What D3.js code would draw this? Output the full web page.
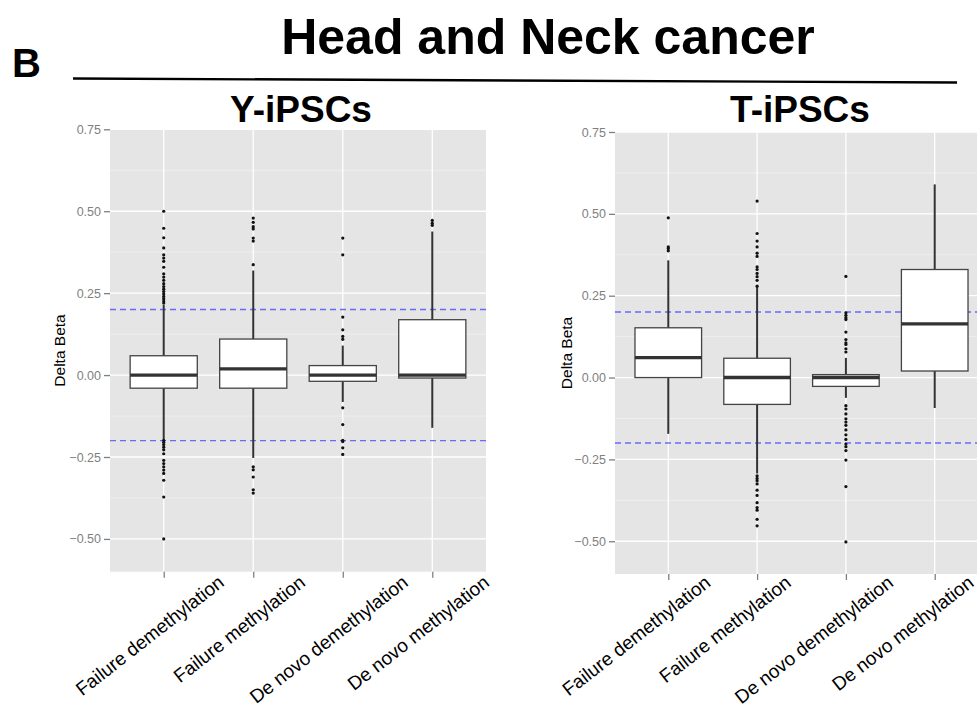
<!DOCTYPE html>
<html>
<head>
<meta charset="utf-8">
<script src="https://cdn.jsdelivr.net/npm/d3@7"></script>
<style>
  html, body { margin: 0; padding: 0; background: #fff; }
  svg { display: block; font-family: "Liberation Sans", Arial, sans-serif; }
</style>
</head>
<body>
<svg id="chart" width="977" height="709"></svg>
<script>
// Categories of CpG behaviour
const categories = ["Failure demethylation", "Failure methylation", "De novo demethylation", "De novo methylation"];
const panelTitles = ["Y-iPSCs", "T-iPSCs"];
const yTicks = [-0.5, -0.25, 0, 0.25, 0.5, 0.75];
const yMinor = [-0.375, -0.125, 0.125, 0.375, 0.625];
const thresholds = [-0.2, 0.2];

// Y-iPSCs box statistics (Delta Beta)
const yWhiskerLow  = [-0.195, -0.253, -0.082, -0.161];
const yQ1          = [-0.040, -0.040, -0.019, -0.009];
const yMedian      = [ 0.000,  0.019,  0.000,  0.000];
const yQ3          = [ 0.059,  0.110,  0.029,  0.169];
const yWhiskerHigh = [ 0.215,  0.319,  0.090,  0.438];
const yOutliers = [
  [0.50, 0.448, 0.419, 0.388, 0.367, 0.357, 0.347, 0.329, 0.309, 0.299, 0.289, 0.279, 0.27, 0.262,
   0.255, 0.248, 0.24, 0.233, 0.226, 0.22, -0.199, -0.205, -0.212, -0.22, -0.228, -0.24, -0.26,
   -0.27, -0.28, -0.29, -0.30, -0.321, -0.372, -0.50],
  [0.479, 0.466, 0.453, 0.446, 0.418, 0.409, 0.337, -0.28, -0.289, -0.311, -0.35, -0.36],
  [0.418, 0.367, 0.177, 0.138, 0.118, 0.109, -0.10, -0.151, -0.199, -0.203, -0.222, -0.242],
  [0.472, 0.463, 0.457]
];

// T-iPSCs box statistics (Delta Beta)
const tWhiskerLow  = [-0.172, -0.293, -0.062, -0.093];
const tQ1          = [ 0.000, -0.082, -0.027,  0.020];
const tMedian      = [ 0.061,  0.000,  0.000,  0.164];
const tQ3          = [ 0.152,  0.059,  0.009,  0.330];
const tWhiskerHigh = [ 0.358,  0.277,  0.060,  0.590];
const tOutliers = [
  [0.488, 0.399, 0.394, 0.387],
  [0.539, 0.44, 0.417, 0.399, 0.38, 0.37, 0.338, 0.33, 0.318, 0.308, 0.297, 0.279, -0.30, -0.308,
   -0.315, -0.325, -0.344, -0.36, -0.382, -0.397, -0.405, -0.433, -0.453],
  [0.309, 0.198, 0.19, 0.183, 0.177, 0.139, 0.116, 0.106, 0.101, 0.088, 0.078, -0.086, -0.096,
   -0.111, -0.126, -0.136, -0.146, -0.16, -0.175, -0.189, -0.203, -0.211, -0.223, -0.252, -0.333, -0.502],
  []
];

function rows(lo, q1, med, q3, hi, out) {
  return categories.map((c, i) => ({ cat: c, lo: lo[i], q1: q1[i], med: med[i], q3: q3[i], hi: hi[i], out: out[i] }));
}

const panels = [
  { title: panelTitles[0], data: rows(yWhiskerLow, yQ1, yMedian, yQ3, yWhiskerHigh, yOutliers),
    x0: 110, x1: 486, y0: 129.3, y1: 571.7, titleX: 301, ylabX: 65, labDx: -10, labGap: 13 },
  { title: panelTitles[1], data: rows(tWhiskerLow, tQ1, tMedian, tQ3, tWhiskerHigh, tOutliers),
    x0: 615, x1: 988, y0: 132, y1: 574, titleX: 800, ylabX: 572, labDx: -28, labGap: 11 }
];

const svg = d3.select("#chart");
svg.append("rect").attr("width", 977).attr("height", 709).attr("fill", "#fff");

// Figure heading
svg.append("text").attr("x", 12).attr("y", 76.5)
  .attr("font-size", 40).attr("font-weight", "bold").attr("fill", "#000").text("B");
svg.append("text").attr("x", 548).attr("y", 53.5).attr("text-anchor", "middle")
  .attr("font-size", 50).attr("font-weight", "bold").attr("fill", "#000").text("Head and Neck cancer");
svg.append("line").attr("x1", 73).attr("y1", 78.5).attr("x2", 957).attr("y2", 82.5)
  .attr("stroke", "#000").attr("stroke-width", 2.4);

const labelAngle = 38;
const sinA = Math.sin(labelAngle * Math.PI / 180);

panels.forEach(p => {
  const x = d3.scalePoint().domain(categories).range([p.x0, p.x1]).padding(0.6);
  const y = d3.scaleLinear().domain([-0.6, 0.75]).range([p.y1, p.y0]);
  const bw = x.step() * 0.75;
  const g = svg.append("g");

  // panel background and grid
  g.append("rect").attr("x", p.x0).attr("y", p.y0)
    .attr("width", p.x1 - p.x0).attr("height", p.y1 - p.y0).attr("fill", "#e5e5e5");
  g.selectAll(".minor").data(yMinor).join("line")
    .attr("x1", p.x0).attr("x2", p.x1).attr("y1", d => y(d)).attr("y2", d => y(d))
    .attr("stroke", "#f3f3f3").attr("stroke-width", 0.7);
  g.selectAll(".major").data(yTicks).join("line")
    .attr("x1", p.x0).attr("x2", p.x1).attr("y1", d => y(d)).attr("y2", d => y(d))
    .attr("stroke", "#fff").attr("stroke-width", 1.3);
  g.selectAll(".vmajor").data(categories).join("line")
    .attr("x1", d => x(d)).attr("x2", d => x(d)).attr("y1", p.y0).attr("y2", p.y1)
    .attr("stroke", "#fff").attr("stroke-width", 1.3);

  // threshold lines
  g.selectAll(".thr").data(thresholds).join("line")
    .attr("x1", p.x0).attr("x2", p.x1).attr("y1", d => y(d)).attr("y2", d => y(d))
    .attr("stroke", "#6a6aff").attr("stroke-width", 1.4).attr("stroke-dasharray", "6,4");

  // boxplots
  const box = g.selectAll(".box").data(p.data).join("g");
  box.append("line")
    .attr("x1", d => x(d.cat)).attr("x2", d => x(d.cat))
    .attr("y1", d => y(d.hi)).attr("y2", d => y(d.lo))
    .attr("stroke", "#333").attr("stroke-width", 2);
  box.append("rect")
    .attr("x", d => x(d.cat) - bw / 2).attr("width", bw)
    .attr("y", d => y(d.q3)).attr("height", d => y(d.q1) - y(d.q3))
    .attr("fill", "#fff").attr("stroke", "#444").attr("stroke-width", 1.3);
  box.append("line")
    .attr("x1", d => x(d.cat) - bw / 2).attr("x2", d => x(d.cat) + bw / 2)
    .attr("y1", d => y(d.med)).attr("y2", d => y(d.med))
    .attr("stroke", "#333").attr("stroke-width", 3.4);
  box.selectAll("circle").data(d => d.out.map(v => ({ cat: d.cat, v }))).join("circle")
    .attr("cx", d => x(d.cat)).attr("cy", d => y(d.v)).attr("r", 1.6).attr("fill", "#111");

  // y axis
  const yAxis = d3.axisLeft(y).tickValues(yTicks).tickSize(6).tickPadding(3).tickFormat(d3.format(".2f"));
  const ya = g.append("g").attr("transform", `translate(${p.x0},0)`).call(yAxis);
  ya.select(".domain").remove();
  ya.selectAll(".tick line").attr("stroke", "#7f7f7f").attr("stroke-width", 1.3);
  ya.selectAll(".tick text").attr("fill", "#7f7f7f").attr("font-size", 12.5)
    .attr("font-family", "Liberation Sans, Arial, sans-serif");

  // x axis ticks
  const xAxis = d3.axisBottom(x).tickSize(6).tickFormat("");
  const xa = g.append("g").attr("transform", `translate(0,${p.y1})`).call(xAxis);
  xa.select(".domain").remove();
  xa.selectAll(".tick line").attr("stroke", "#7f7f7f").attr("stroke-width", 1.3);

  // rotated category labels
  const labs = g.selectAll(".xlab").data(categories).join("text")
    .attr("font-size", 19).attr("fill", "#000").attr("text-anchor", "middle")
    .text(d => d);
  labs.each(function (d) {
    const len = this.getComputedTextLength();
    const cx = x(d) + p.labDx;
    const cy = p.y1 + p.labGap + (len / 2) * sinA;
    d3.select(this).attr("transform", `translate(${cx},${cy}) rotate(${-labelAngle})`);
  });

  // y axis title
  g.append("text")
    .attr("transform", `translate(${p.ylabX},${(p.y0 + p.y1) / 2}) rotate(-90)`)
    .attr("text-anchor", "middle").attr("font-size", 15.5).attr("fill", "#000").text("Delta Beta");

  // panel title
  g.append("text").attr("x", p.titleX).attr("y", 121.7).attr("text-anchor", "middle")
    .attr("font-size", 37).attr("font-weight", "bold").attr("fill", "#000").text(p.title);
});
</script>
</body>
</html>
